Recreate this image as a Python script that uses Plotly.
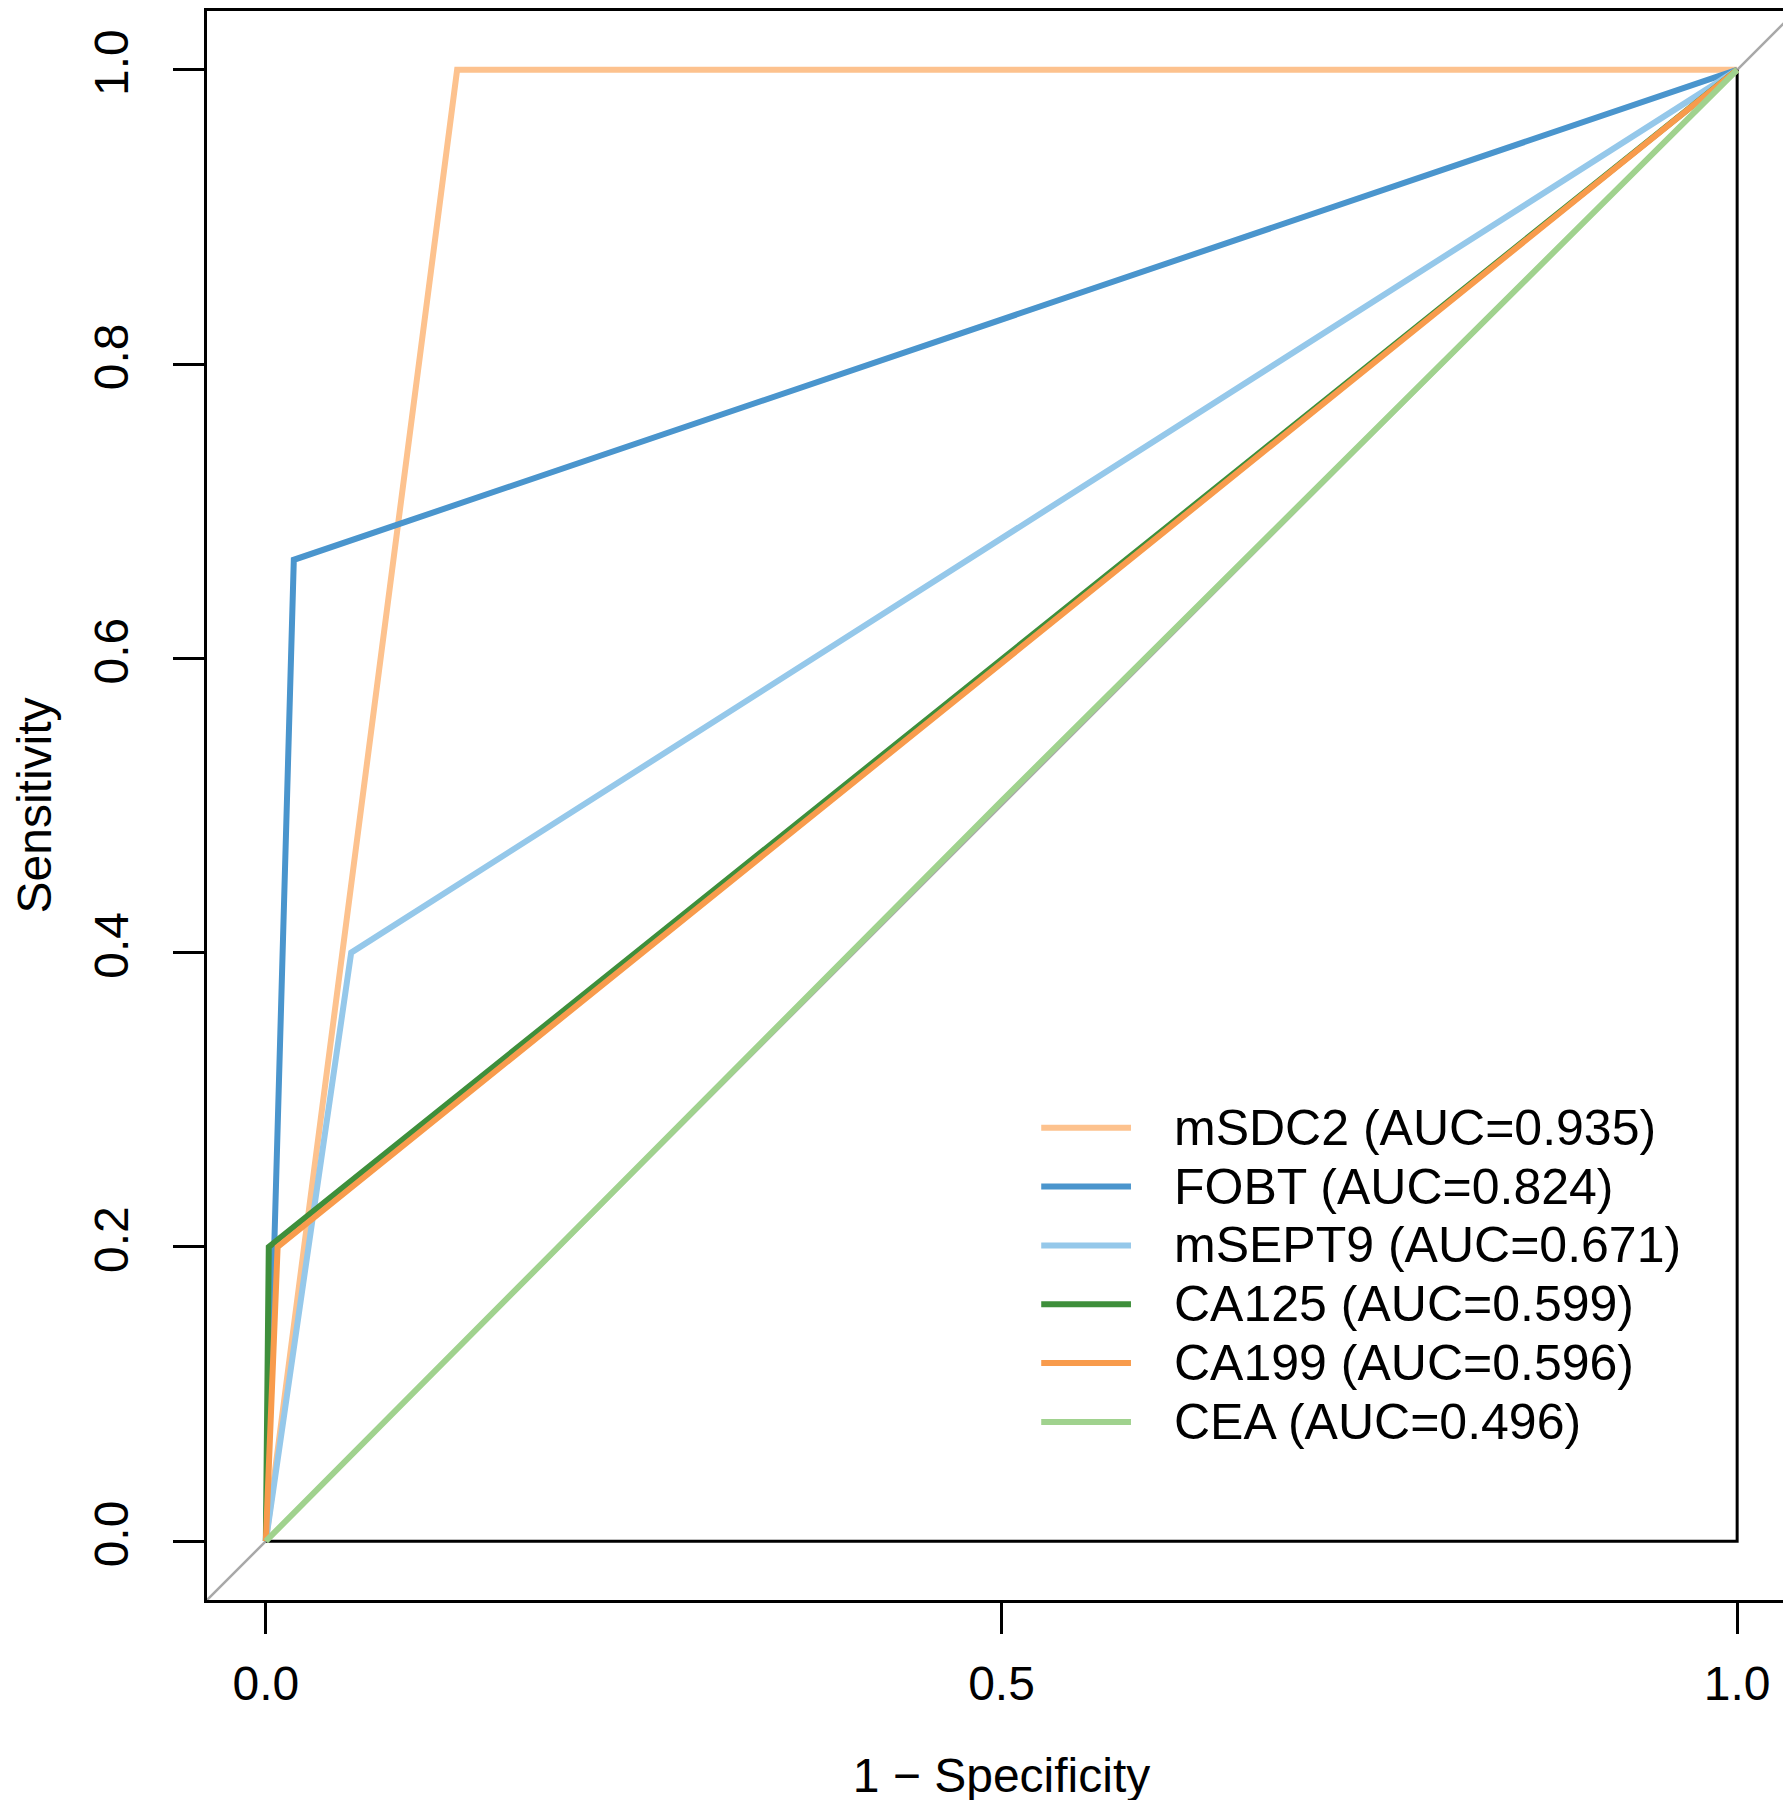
import plotly.graph_objects as go

# ---- data ----
markers = ["mSDC2", "FOBT", "mSEPT9", "CA125", "CA199", "CEA"]
auc_values = [0.935, 0.824, 0.671, 0.599, 0.596, 0.496]
colors = ["#FDC28E", "#4A95CD", "#95C8EA", "#3E8F3B", "#F89B4C", "#A0D28E"]

fpr_mSDC2 = [0.0, 0.13, 1.0]
tpr_mSDC2 = [0.0, 1.0, 1.0]
fpr_FOBT = [0.0, 0.019, 1.0]
tpr_FOBT = [0.0, 0.667, 1.0]
fpr_mSEPT9 = [0.0, 0.058, 1.0]
tpr_mSEPT9 = [0.0, 0.4, 1.0]
fpr_CA125 = [0.0, 0.002, 1.0]
tpr_CA125 = [0.0, 0.2, 1.0]
fpr_CA199 = [0.0, 0.008, 1.0]
tpr_CA199 = [0.0, 0.2, 1.0]
fpr_CEA = [0.0, 0.5, 1.0]
tpr_CEA = [0.0, 0.503, 1.0]

x_ticks = [0.0, 0.5, 1.0]
x_tick_labels = ["0.0", "0.5", "1.0"]
y_ticks = [0.0, 0.2, 0.4, 0.6, 0.8, 1.0]
y_tick_labels = ["0.0", "0.2", "0.4", "0.6", "0.8", "1.0"]
axis_range = [-0.04, 1.04]

curves = [
    (fpr_mSDC2, tpr_mSDC2),
    (fpr_FOBT, tpr_FOBT),
    (fpr_mSEPT9, tpr_mSEPT9),
    (fpr_CA125, tpr_CA125),
    (fpr_CA199, tpr_CA199),
    (fpr_CEA, tpr_CEA),
]

FONT = "Liberation Sans, Arial, sans-serif"

fig = go.Figure()

# reference diagonal across the whole plotting region
fig.add_trace(go.Scatter(x=axis_range, y=axis_range, mode="lines",
                         line=dict(color="#A8A8A8", width=2.5),
                         showlegend=False, hoverinfo="skip"))

# inner frame lines (bottom at sensitivity 0, right at 1 - specificity 1)
fig.add_trace(go.Scatter(x=[0.0, 1.0, 1.0], y=[0.0, 0.0, 1.0], mode="lines",
                         line=dict(color="black", width=3),
                         showlegend=False, hoverinfo="skip"))

for name, auc, col, (fx, ty) in zip(markers, auc_values, colors, curves):
    fig.add_trace(go.Scatter(x=fx, y=ty, mode="lines",
                             name=f"{name} (AUC={auc:.3f})",
                             line=dict(color=col, width=6),
                             showlegend=False))

# manual legend (R-style long line samples)
leg_top = 0.281
leg_step = 0.0400
for i, (name, auc, col) in enumerate(zip(markers, auc_values, colors)):
    yy = leg_top - i * leg_step
    fig.add_shape(type="line", xref="x", yref="y",
                  x0=0.527, x1=0.588, y0=yy, y1=yy,
                  line=dict(color=col, width=6))
    fig.add_annotation(x=0.616, y=yy, xref="x", yref="y",
                       text=f"{name} (AUC={auc:.3f})",
                       showarrow=False, xanchor="left", yanchor="middle",
                       font=dict(family=FONT, size=50, color="black"))

axis_common = dict(
    range=axis_range, showgrid=False, zeroline=False,
    showline=True, mirror=True, linecolor="black", linewidth=3,
    ticks="outside", ticklen=31, tickwidth=3, tickcolor="black",
    tickfont=dict(family=FONT, size=48, color="black"),
    title_font=dict(family=FONT, size=48, color="black"),
    automargin=False, fixedrange=True,
)

fig.update_xaxes(**axis_common, tickvals=x_ticks, ticktext=x_tick_labels,
                 ticklabelstandoff=8,
                 title=dict(text="1 \u2212 Specificity", standoff=50))
fig.update_yaxes(**axis_common, tickvals=y_ticks, ticktext=y_tick_labels,
                 tickangle=-90, ticklabelstandoff=26,
                 title=dict(text="Sensitivity", standoff=49))

fig.update_layout(
    width=1791, height=1800,
    margin=dict(l=199, r=3, t=3, b=208, pad=0),
    paper_bgcolor="white", plot_bgcolor="white",
    showlegend=False,
    font=dict(family=FONT, color="black"),
)

fig.write_html("out.html")
